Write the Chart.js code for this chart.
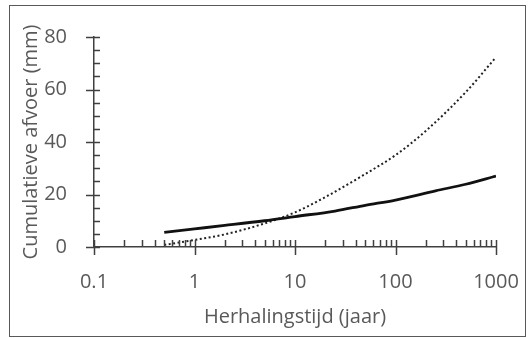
<!DOCTYPE html>
<html>
<head>
<meta charset="utf-8">
<script src="https://cdn.jsdelivr.net/npm/chart.js@4"></script>
<style>
  body { margin: 0; background: #fff; }
  #wrap { position: relative; width: 531px; height: 338px; }
  #frame { position: absolute; left: 9px; top: 5px; width: 515px; height: 330px; border: 1px solid #595959; }
  canvas { position: absolute; left: 0; top: 0; }
</style>
</head>
<body>
<div id="wrap">
  <div id="frame"></div>
  <canvas id="chart" width="531" height="338"></canvas>
</div>
<script>
// return periods (years) and cumulative discharge (mm)
const solidPeriods = [0.5, 1, 2, 5, 10, 25, 50, 100, 250, 500, 1000];
const solidMm = [5.6, 6.9, 8.2, 10.0, 11.6, 13.7, 15.9, 17.9, 21.4, 23.9, 27.0];

const dottedPeriods = [0.5, 0.7, 1, 2, 5, 10, 20, 50, 100, 200, 500, 1000];
const dottedMm = [0.8, 1.7, 2.7, 4.8, 9.0, 13.2, 19.0, 27.8, 35.0, 44.2, 59.0, 72.3];

const xTicks = [0.1, 1, 10, 100, 1000];
const yTicks = [0, 20, 40, 60, 80];
const yMinorStep = 5;

const axisColor = "#404040";
const textColor = "#595959";
const fontFamily = "'Open Sans', Lato, sans-serif";

const toPoints = (xs, ys) => xs.map((x, i) => ({ x: x, y: ys[i] }));

// tick marks: majors cross the axis, minors point inward
const tickMarks = {
  id: "tickMarks",
  afterDraw(chart) {
    const ctx = chart.ctx;
    const xs = chart.scales.x;
    const ys = chart.scales.y;
    const x0 = xs.getPixelForValue(xTicks[0]);
    const y0 = ys.getPixelForValue(0);
    ctx.save();
    ctx.strokeStyle = axisColor;
    ctx.lineWidth = 1.5;
    ctx.beginPath();
    for (let v = 0; v <= 80; v += yMinorStep) {
      const py = Math.round(ys.getPixelForValue(v)) + 0.5;
      const major = yTicks.includes(v);
      ctx.moveTo(major ? x0 - 8 : x0, py);
      ctx.lineTo(x0 + 6, py);
    }
    for (let i = 0; i < xTicks.length; i++) {
      const px = Math.round(xs.getPixelForValue(xTicks[i])) + 0.5;
      ctx.moveTo(px, y0 - 7);
      ctx.lineTo(px, y0 + 8);
      if (i < xTicks.length - 1) {
        for (let k = 2; k <= 9; k++) {
          const mx = Math.round(xs.getPixelForValue(xTicks[i] * k)) + 0.5;
          ctx.moveTo(mx, y0 - 7);
          ctx.lineTo(mx, y0);
        }
      }
    }
    ctx.stroke();
    ctx.restore();
  }
};

new Chart(document.getElementById("chart").getContext("2d"), {
  type: "line",
  data: {
    datasets: [
      {
        label: "solid",
        data: toPoints(solidPeriods, solidMm),
        borderColor: "#111",
        borderWidth: 2.8,
        pointRadius: 0,
        cubicInterpolationMode: "monotone",
        fill: false
      },
      {
        label: "dotted",
        data: toPoints(dottedPeriods, dottedMm),
        borderColor: "#222",
        borderWidth: 2,
        borderDash: [2, 2.5],
        pointRadius: 0,
        cubicInterpolationMode: "monotone",
        fill: false
      }
    ]
  },
  options: {
    responsive: false,
    animation: false,
    layout: { padding: { left: 10, top: 37, right: 35, bottom: 0 } },
    plugins: { legend: { display: false }, tooltip: { enabled: false } },
    scales: {
      x: {
        type: "logarithmic",
        min: 0.1,
        max: 1000,
        grid: { display: false },
        border: { display: true, color: axisColor, width: 1.5 },
        afterBuildTicks: (s) => { s.ticks = xTicks.map((v) => ({ value: v })); },
        afterFit: (s) => { s.height = 91; s.paddingLeft = 0; s.paddingRight = 0; },
        ticks: {
          color: textColor,
          font: { family: fontFamily, size: 20 },
          padding: 15,
          maxRotation: 0,
          autoSkip: false,
          callback: (v) => String(v)
        },
        title: {
          display: true,
          text: "Herhalingstijd (jaar)",
          color: textColor,
          font: { family: fontFamily, size: 20 },
          padding: { top: 0, bottom: 9 }
        }
      },
      y: {
        min: 0,
        max: 80,
        grid: { display: false },
        border: { display: true, color: axisColor, width: 1.5 },
        afterBuildTicks: (s) => { s.ticks = yTicks.map((v) => ({ value: v })); },
        afterFit: (s) => { s.width = 84; },
        ticks: {
          color: textColor,
          font: { family: fontFamily, size: 20 },
          padding: 19
        },
        title: {
          display: true,
          text: "Cumulatieve afvoer (mm)",
          color: textColor,
          font: { family: fontFamily, size: 20 },
          padding: { top: 9, bottom: 0 }
        }
      }
    }
  },
  plugins: [tickMarks]
});
</script>
</body>
</html>
